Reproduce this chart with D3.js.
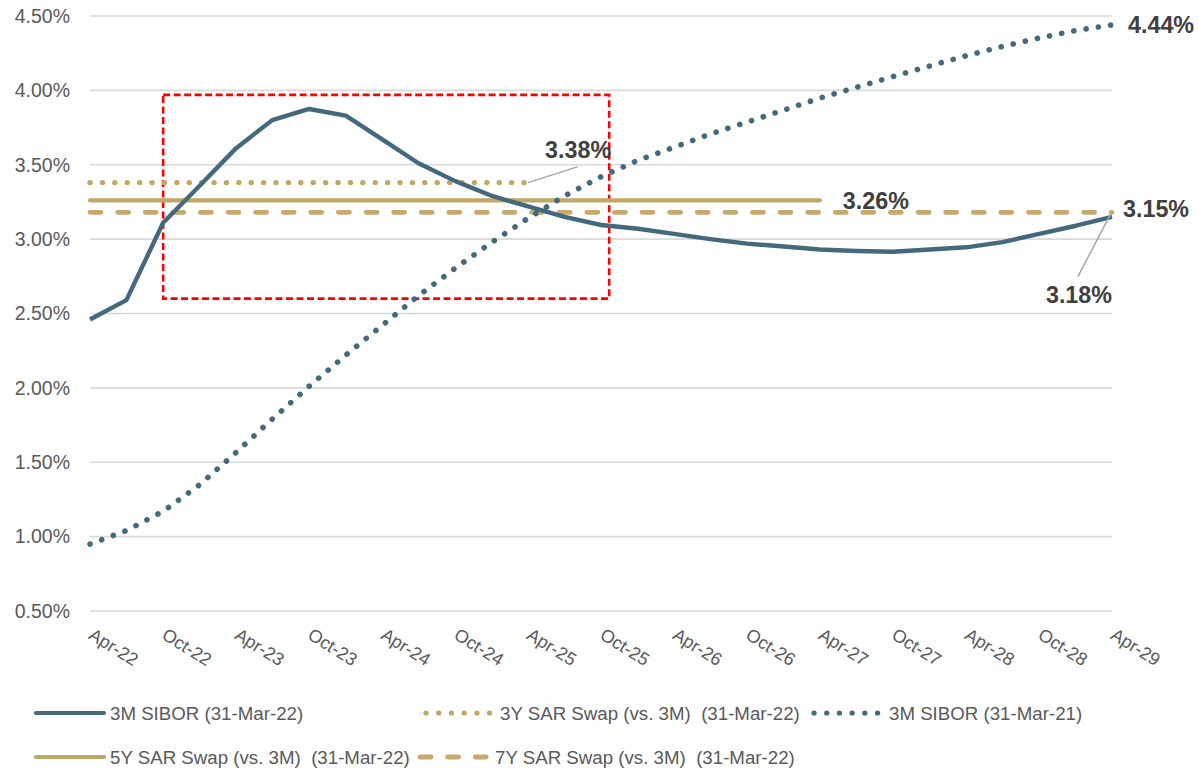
<!DOCTYPE html>
<html>
<head>
<meta charset="utf-8">
<script src="https://cdn.jsdelivr.net/npm/d3@7"></script>
<style>
  html, body { margin: 0; padding: 0; background: #ffffff; }
  svg { display: block; font-family: "Liberation Sans", Arial, sans-serif; }
  text { white-space: pre; }
</style>
</head>
<body>
<svg id="chart" width="1198" height="771"></svg>
<script>
// Quarterly observation dates (month starts)
const quarters = [
  "2022-04","2022-07","2022-10","2023-01","2023-04","2023-07","2023-10","2024-01",
  "2024-04","2024-07","2024-10","2025-01","2025-04","2025-07","2025-10","2026-01",
  "2026-04","2026-07","2026-10","2027-01","2027-04","2027-07","2027-10","2028-01",
  "2028-04","2028-07","2028-10","2029-01","2029-04"
];

// 3M SIBOR forward curve as of 31-Mar-22 (%)
const sibor2022 = [
  2.46, 2.59, 3.11, 3.36, 3.61, 3.80, 3.875, 3.83,
  3.67, 3.51, 3.39, 3.29, 3.22, 3.15, 3.095, 3.07,
  3.035, 3.00, 2.97, 2.95, 2.93, 2.92, 2.915, 2.93,
  2.945, 2.98, 3.035, 3.09, 3.15
];

// 3M SIBOR forward curve as of 31-Mar-21 (%)
const sibor2021 = [
  0.95, 1.04, 1.17, 1.35, 1.565, 1.79, 2.01, 2.22,
  2.42, 2.62, 2.805, 2.98, 3.14, 3.29, 3.42, 3.53,
  3.617, 3.707, 3.787, 3.868, 3.948, 4.02, 4.093, 4.164,
  4.233, 4.295, 4.352, 4.403, 4.44
];

// SAR swap rates (vs. 3M) as of 31-Mar-22
const swapTenors = ["3Y", "5Y", "7Y"];
const swapRates  = [3.38, 3.26, 3.18];
const swapStart  = "2022-04";
const swapEnds   = ["2025-04", "2027-04", "2029-04"];

// Axis ticks
const xTickDates  = ["2022-04","2022-10","2023-04","2023-10","2024-04","2024-10","2025-04",
                     "2025-10","2026-04","2026-10","2027-04","2027-10","2028-04","2028-10","2029-04"];
const xTickLabels = ["Apr-22","Oct-22","Apr-23","Oct-23","Apr-24","Oct-24","Apr-25",
                     "Oct-25","Apr-26","Oct-26","Apr-27","Oct-27","Apr-28","Oct-28","Apr-29"];
const yTicks      = [0.5, 1.0, 1.5, 2.0, 2.5, 3.0, 3.5, 4.0, 4.5];

// Highlighted window
const boxFrom = "2022-10-01", boxTo = "2025-10-21";
const boxHigh = 3.97, boxLow = 2.60;

const legendNames = [
  "3M SIBOR (31-Mar-22)",
  "3Y SAR Swap (vs. 3M)  (31-Mar-22)",
  "3M SIBOR (31-Mar-21)",
  "5Y SAR Swap (vs. 3M)  (31-Mar-22)",
  "7Y SAR Swap (vs. 3M)  (31-Mar-22)"
];

const BLUE = "#44697c";
const GOLD = "#c2a764";
const GOLD_DASH = "#c6a96c";
const LABEL = "#404040";
const AXIS_TEXT = "#595959";

const parseMonth = d3.timeParse("%Y-%m");
const parseDay = d3.timeParse("%Y-%m-%d");

const svg = d3.select("#chart");
const margin = { left: 90, right: 86, top: 16, bottom: 160 };
const W = 1198, H = 771;

const x = d3.scaleTime()
  .domain([parseMonth("2022-04"), parseMonth("2029-04")])
  .range([margin.left, W - margin.right]);
const y = d3.scaleLinear()
  .domain([0.5, 4.5])
  .range([H - margin.bottom, margin.top]);

// Gridlines
svg.append("g")
  .selectAll("line")
  .data(yTicks)
  .join("line")
  .attr("x1", x.range()[0]).attr("x2", x.range()[1])
  .attr("y1", d => y(d)).attr("y2", d => y(d))
  .attr("stroke", "#d9d9d9").attr("stroke-width", 1.6);

// Y axis labels
const yAxis = svg.append("g")
  .attr("transform", `translate(${margin.left},0)`)
  .call(d3.axisLeft(y).tickValues(yTicks).tickSize(0).tickPadding(20)
    .tickFormat(d => d3.format(".2f")(d) + "%"));
yAxis.select(".domain").remove();
yAxis.selectAll("text")
  .attr("fill", AXIS_TEXT)
  .style("font-size", "19.5px")
  .style("font-family", "'Liberation Sans', Arial, sans-serif");

// X axis labels (rotated)
const xAxis = svg.append("g")
  .attr("transform", `translate(0,${H - margin.bottom})`)
  .call(d3.axisBottom(x)
    .tickValues(xTickDates.map(parseMonth))
    .tickSize(0)
    .tickFormat((d, i) => xTickLabels[i]));
xAxis.select(".domain").remove();
xAxis.selectAll("text")
  .attr("x", 0).attr("y", 0).attr("dy", null)
  .attr("text-anchor", "start")
  .attr("transform", "translate(-3,27) rotate(32)")
  .attr("fill", AXIS_TEXT)
  .style("font-size", "18px")
  .style("font-family", "'Liberation Sans', Arial, sans-serif");

// Red dashed highlight box
svg.append("rect")
  .attr("x", x(parseDay(boxFrom)))
  .attr("y", y(boxHigh))
  .attr("width", x(parseDay(boxTo)) - x(parseDay(boxFrom)))
  .attr("height", y(boxLow) - y(boxHigh))
  .attr("fill", "none")
  .attr("stroke", "#ff0000")
  .attr("stroke-width", 2.6)
  .attr("stroke-dasharray", "7 3.5");

// Swap lines
const swapStyles = [
  { color: GOLD, dash: "0.1 12.3", cap: "round", width: 5.4 },
  { color: GOLD, dash: null, cap: "round", width: 4.2 },
  { color: GOLD_DASH, dash: "11 16.6", cap: "round", width: 4.8 }
];
const flatLine = d3.line().x(d => x(d[0])).y(d => y(d[1]));
swapRates.forEach((r, i) => {
  svg.append("path")
    .datum([[parseMonth(swapStart), r], [parseMonth(swapEnds[i]), r]])
    .attr("d", flatLine)
    .attr("fill", "none")
    .attr("stroke", swapStyles[i].color)
    .attr("stroke-width", swapStyles[i].width)
    .attr("stroke-linecap", swapStyles[i].cap)
    .attr("stroke-dasharray", swapStyles[i].dash);
});

// SIBOR curves
const curveLine = d3.line()
  .x((d, i) => x(parseMonth(quarters[i])))
  .y(d => y(d));

svg.append("path")
  .datum(sibor2021)
  .attr("d", curveLine)
  .attr("fill", "none")
  .attr("stroke", BLUE)
  .attr("stroke-width", 5.6)
  .attr("stroke-linecap", "round")
  .attr("stroke-dasharray", "0.1 12.3");

svg.append("path")
  .datum(sibor2022)
  .attr("d", curveLine)
  .attr("fill", "none")
  .attr("stroke", BLUE)
  .attr("stroke-width", 4.4)
  .attr("stroke-linejoin", "round");

// Data labels
const pct = d => d3.format(".2f")(d) + "%";
const labelGroup = svg.append("g")
  .style("font-family", "'Liberation Sans', Arial, sans-serif")
  .style("font-weight", "bold")
  .style("font-size", "23.3px")
  .attr("fill", LABEL);

// leader lines
const leaders = svg.append("g").attr("stroke", "#a6a6a6").attr("stroke-width", 1.5);

// 3Y swap label
const end3y = [x(parseMonth(swapEnds[0])), y(swapRates[0])];
leaders.append("line")
  .attr("x1", end3y[0]).attr("y1", end3y[1])
  .attr("x2", end3y[0] + 50).attr("y2", end3y[1] - 16);
labelGroup.append("text")
  .attr("x", end3y[0] + 17).attr("y", end3y[1] - 24.5)
  .text(pct(swapRates[0]));

// 5Y swap label
const end5y = [x(parseMonth(swapEnds[1])), y(swapRates[1])];
labelGroup.append("text")
  .attr("x", end5y[0] + 23).attr("y", end5y[1] + 9)
  .text(pct(swapRates[1]));

// 3M SIBOR (31-Mar-21) end label
const endOld = [x(parseMonth(quarters[quarters.length - 1])), y(sibor2021[sibor2021.length - 1])];
labelGroup.append("text")
  .attr("x", endOld[0] + 16).attr("y", endOld[1] + 8)
  .text(pct(sibor2021[sibor2021.length - 1]));

// 3M SIBOR (31-Mar-22) end label
const endNew = [x(parseMonth(quarters[quarters.length - 1])), y(sibor2022[sibor2022.length - 1])];
labelGroup.append("text")
  .attr("x", endNew[0] + 11).attr("y", endNew[1] + 0.5)
  .text(pct(sibor2022[sibor2022.length - 1]));

// 7Y swap label with leader
const end7y = [x(parseMonth(swapEnds[2])), y(swapRates[2])];
leaders.append("line")
  .attr("x1", end7y[0] - 1).attr("y1", end7y[1] + 1)
  .attr("x2", end7y[0] - 34).attr("y2", end7y[1] + 64);
labelGroup.append("text")
  .attr("x", end7y[0]).attr("y", end7y[1] + 91)
  .attr("text-anchor", "end")
  .text(pct(swapRates[2]));

// Legend
const legendItems = [
  { name: legendNames[0], color: BLUE, dash: null, width: 4.2, x0: 36, x1: 104, tx: 110, row: 0 },
  { name: legendNames[1], color: GOLD, dash: "0.1 12.6", width: 5.2, x0: 426, x1: 490, tx: 500, row: 0 },
  { name: legendNames[2], color: BLUE, dash: "0.1 12.6", width: 5.2, x0: 814, x1: 878, tx: 889, row: 0 },
  { name: legendNames[3], color: GOLD, dash: null, width: 4.2, x0: 36, x1: 104, tx: 110, row: 1 },
  { name: legendNames[4], color: GOLD_DASH, dash: "11 16.6", width: 4.8, x0: 420, x1: 492, tx: 495, row: 1 }
];
const rowY = [713, 757];
const legend = svg.append("g");
legendItems.forEach(it => {
  legend.append("line")
    .attr("x1", it.x0).attr("x2", it.x1)
    .attr("y1", rowY[it.row]).attr("y2", rowY[it.row])
    .attr("stroke", it.color)
    .attr("stroke-width", it.width)
    .attr("stroke-linecap", "round")
    .attr("stroke-dasharray", it.dash);
  legend.append("text")
    .attr("x", it.tx).attr("y", rowY[it.row] + 7)
    .attr("fill", AXIS_TEXT)
    .style("font-size", "18.7px")
    .text(it.name);
});
</script>
</body>
</html>
